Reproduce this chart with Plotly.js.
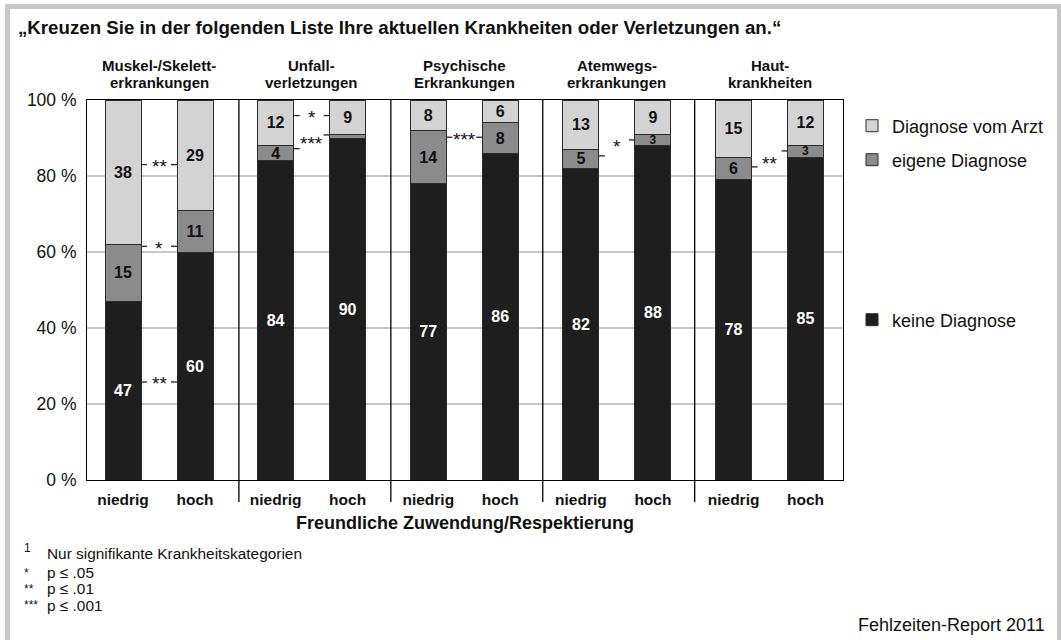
<!DOCTYPE html>
<html>
<head>
<meta charset="utf-8">
<script src="https://cdn.plot.ly/plotly-3.0.1.min.js"></script>
<style>
  html, body { margin: 0; padding: 0; background: #ffffff; }
  #chart { width: 1061px; height: 640px; }
</style>
</head>
<body>
<div id="chart"></div>
<script>
// ---------------- DATA ----------------
const groupTitleLines = [
  ["Muskel-/Skelett-", "erkrankungen"],
  ["Unfall-", "verletzungen"],
  ["Psychische", "Erkrankungen"],
  ["Atemwegs-", "erkrankungen"],
  ["Haut-", "krankheiten"]
];
const levels = ["niedrig", "hoch"];
const seriesNames = ["keine Diagnose", "eigene Diagnose", "Diagnose vom Arzt"];

// segment heights (%), order: group1 niedrig, group1 hoch, group2 niedrig, ...
const keineValues  = [47, 60, 84, 90, 78, 86, 82, 88, 79, 85];
const eigeneValues = [15, 11, 4, 1, 14, 8, 5, 3, 6, 3];
const arztValues   = [38, 29, 12, 9, 8, 6, 13, 9, 15, 12];

// printed labels
const keineLabels  = [47, 60, 84, 90, 77, 86, 82, 88, 78, 85];
const eigeneLabels = [15, 11, 4, null, 14, 8, 5, 3, 6, 3];
const arztLabels   = [38, 29, 12, 9, 8, 6, 13, 9, 15, 12];

// significance markers: group index, stars, level at niedrig bar, level at hoch bar, level of stars
const sigGroups = [0, 0, 0, 1, 1, 2, 3, 4];
const sigStars  = ["**", "*", "**", "*", "***", "***", "*", "**"];
const sigLeft   = [83, 61.5, 25.8, 95.9, 87.2, 90.2, 85.3, 82.4];
const sigRight  = [83, 61.5, 25.8, 95.9, 90.8, 90.2, 89.5, 86.6];
const sigText   = [83, 61.5, 25.8, 95.9, 89.0, 90.2, 88.4, 83.8];

const chartTitle = "„Kreuzen Sie in der folgenden Liste Ihre aktuellen Krankheiten oder Verletzungen an.“";
const xTitle = "Freundliche Zuwendung/Respektierung";
const footnotes = ["Nur signifikante Krankheitskategorien", "p ≤ .05", "p ≤ .01", "p ≤ .001"];
const footMarks = ["1", "*", "**", "***"];
const sourceText = "Fehlzeiten-Report 2011";

// ---------------- LAYOUT HELPERS ----------------
const W = 1061, H = 640;
const ML = 87, MR = 218, MT = 100, MB = 160;
const PW = W - ML - MR, PH = H - MT - MB;
const px2x = p => (p - ML) / PW;          // pixel -> paper x
const py2y = p => (H - MB - p) / PH;      // pixel -> paper y

const GROUP_STEP = 2.12;
const LEVEL_OFFSET = [0.5, 1.5];
const BAR_W = 0.5;
const UNIT_PX = PW / 10.5;

const xs = [];
const tickText = [];
groupTitleLines.forEach((g, gi) => {
  levels.forEach((lv, li) => {
    xs.push(gi * GROUP_STEP + LEVEL_OFFSET[li]);
    tickText.push("<b>" + lv + "</b>");
  });
});

const fontFam = "Liberation Sans, Arial, Helvetica, sans-serif";
const outline = { color: "#2b2b2b", width: 1 };

function txt(arr) { return arr.map(v => (v === null ? "" : "<b>" + v + "</b>")); }
function sizes(vals) { return vals.map(v => (v < 4 ? 12 : 16)); }

function barTrace(i, vals, labels, color, textColor, legendId) {
  return {
    type: "bar", name: seriesNames[i], x: xs, y: vals, width: BAR_W,
    marker: { color: color, line: outline },
    text: txt(labels), textposition: "inside", insidetextanchor: "middle",
    constraintext: "none", textangle: 0,
    textfont: { color: textColor, size: sizes(vals), family: fontFam },
    hoverinfo: "skip", legend: legendId
  };
}

const traces = [
  barTrace(0, keineValues, keineLabels, "#1e1e1e", "#ffffff", "legend3"),
  barTrace(1, eigeneValues, eigeneLabels, "#8b8b8b", "#111111", "legend2"),
  barTrace(2, arztValues, arztLabels, "#d3d3d3", "#111111", "legend")
];

// ---------------- SHAPES & ANNOTATIONS ----------------
const shapes = [];
const annotations = [];

// outer grey frame
const frameColor = "#c8c8c8";
shapes.push({ type: "rect", xref: "paper", yref: "paper", x0: px2x(5), x1: px2x(1061), y0: py2y(9), y1: py2y(4), fillcolor: frameColor, line: { width: 0 }, layer: "below" });
shapes.push({ type: "rect", xref: "paper", yref: "paper", x0: px2x(5), x1: px2x(10), y0: py2y(640), y1: py2y(4), fillcolor: frameColor, line: { width: 0 }, layer: "below" });
shapes.push({ type: "rect", xref: "paper", yref: "paper", x0: px2x(1057), x1: px2x(1061), y0: py2y(640), y1: py2y(4), fillcolor: frameColor, line: { width: 0 }, layer: "below" });

// group separators
for (let gi = 1; gi < groupTitleLines.length; gi++) {
  const xv = gi * 2.11;
  shapes.push({ type: "line", xref: "x", yref: "paper", x0: xv, x1: xv, y0: py2y(502), y1: 1, line: { color: "#000000", width: 1.3 } });
}

// group titles (two lines each)
const titleLineY = [66, 83];
groupTitleLines.forEach((lines, gi) => {
  lines.forEach((ln, li) => {
    annotations.push({
      xref: "x", yref: "paper", x: gi * GROUP_STEP + 1.0, y: py2y(titleLineY[li]), text: "<b>" + ln + "</b>",
      showarrow: false, xanchor: "center", yanchor: "middle", align: "center",
      font: { size: 15, color: "#111111", family: fontFam }
    });
  });
});

// significance markers
const tickLen = 6 / UNIT_PX;
sigGroups.forEach((gi, i) => {
  const leftEdge = gi * GROUP_STEP + LEVEL_OFFSET[0] + BAR_W / 2;
  const rightEdge = gi * GROUP_STEP + LEVEL_OFFSET[1] - BAR_W / 2;
  shapes.push({ type: "line", xref: "x", yref: "y", x0: leftEdge, x1: leftEdge + tickLen, y0: sigLeft[i], y1: sigLeft[i], line: { color: "#222222", width: 1.3 } });
  shapes.push({ type: "line", xref: "x", yref: "y", x0: rightEdge - tickLen, x1: rightEdge, y0: sigRight[i], y1: sigRight[i], line: { color: "#222222", width: 1.3 } });
  annotations.push({
    xref: "x", yref: "y", x: (leftEdge + rightEdge) / 2, y: sigText[i], yshift: -2,
    text: sigStars[i], showarrow: false, xanchor: "center", yanchor: "middle",
    font: { size: 19, color: "#111111", family: fontFam }
  });
});

// footnotes
const footY = [553, 572, 588, 605];
const markY = [548, 573, 589, 605];
footnotes.forEach((f, i) => {
  annotations.push({
    xref: "paper", yref: "paper", x: px2x(45), y: py2y(footY[i]), text: f,
    showarrow: false, xanchor: "left", yanchor: "middle",
    font: { size: 15.4, color: "#111111", family: fontFam }
  });
  annotations.push({
    xref: "paper", yref: "paper", x: px2x(22), y: py2y(markY[i]), text: footMarks[i],
    showarrow: false, xanchor: "left", yanchor: "middle",
    font: { size: 12, color: "#111111", family: fontFam }
  });
});

// source
annotations.push({
  xref: "paper", yref: "paper", x: px2x(1047), y: py2y(625), text: sourceText,
  showarrow: false, xanchor: "right", yanchor: "middle",
  font: { size: 18, color: "#111111", family: fontFam }
});

const legendBase = {
  x: px2x(852), xanchor: "left", yanchor: "middle",
  bgcolor: "rgba(0,0,0,0)", borderwidth: 0,
  font: { size: 18, color: "#111111", family: fontFam }
};

const layout = {
  width: W, height: H,
  margin: { l: ML, r: MR, t: MT, b: MB, pad: 0 },
  paper_bgcolor: "#ffffff", plot_bgcolor: "#ffffff",
  font: { family: fontFam, color: "#111111" },
  barmode: "stack",
  title: {
    text: "<b>" + chartTitle + "</b>", xref: "container", yref: "container",
    x: 18 / W, xanchor: "left", y: 1 - 27 / H, yanchor: "middle",
    font: { size: 18.7, color: "#111111", family: fontFam }
  },
  xaxis: {
    range: [0, 10.5], tickmode: "array", tickvals: xs, ticktext: tickText,
    showgrid: false, zeroline: false, showline: true, mirror: true,
    linecolor: "#000000", linewidth: 1,
    ticks: "outside", ticklen: 5, tickcolor: "rgba(0,0,0,0)",
    tickfont: { size: 15.5, color: "#111111", family: fontFam },
    title: { text: "<b>" + xTitle + "</b>", font: { size: 18, color: "#111111", family: fontFam }, standoff: 9 },
    fixedrange: true
  },
  yaxis: {
    range: [0, 100], tickmode: "linear", tick0: 0, dtick: 20, ticksuffix: " %",
    showgrid: true, gridcolor: "#c8c8c8", gridwidth: 1.5,
    zeroline: false, showline: true, mirror: true, linecolor: "#000000", linewidth: 1,
    ticks: "outside", ticklen: 6, tickcolor: "rgba(0,0,0,0)",
    tickfont: { size: 17.5, color: "#111111", family: fontFam },
    fixedrange: true
  },
  legend: Object.assign({}, legendBase, { y: py2y(126) }),
  legend2: Object.assign({}, legendBase, { y: py2y(160) }),
  legend3: Object.assign({}, legendBase, { y: py2y(320) }),
  shapes: shapes,
  annotations: annotations,
  showlegend: true
};

Plotly.newPlot("chart", traces, layout, { displayModeBar: false, staticPlot: true });
</script>
</body>
</html>
